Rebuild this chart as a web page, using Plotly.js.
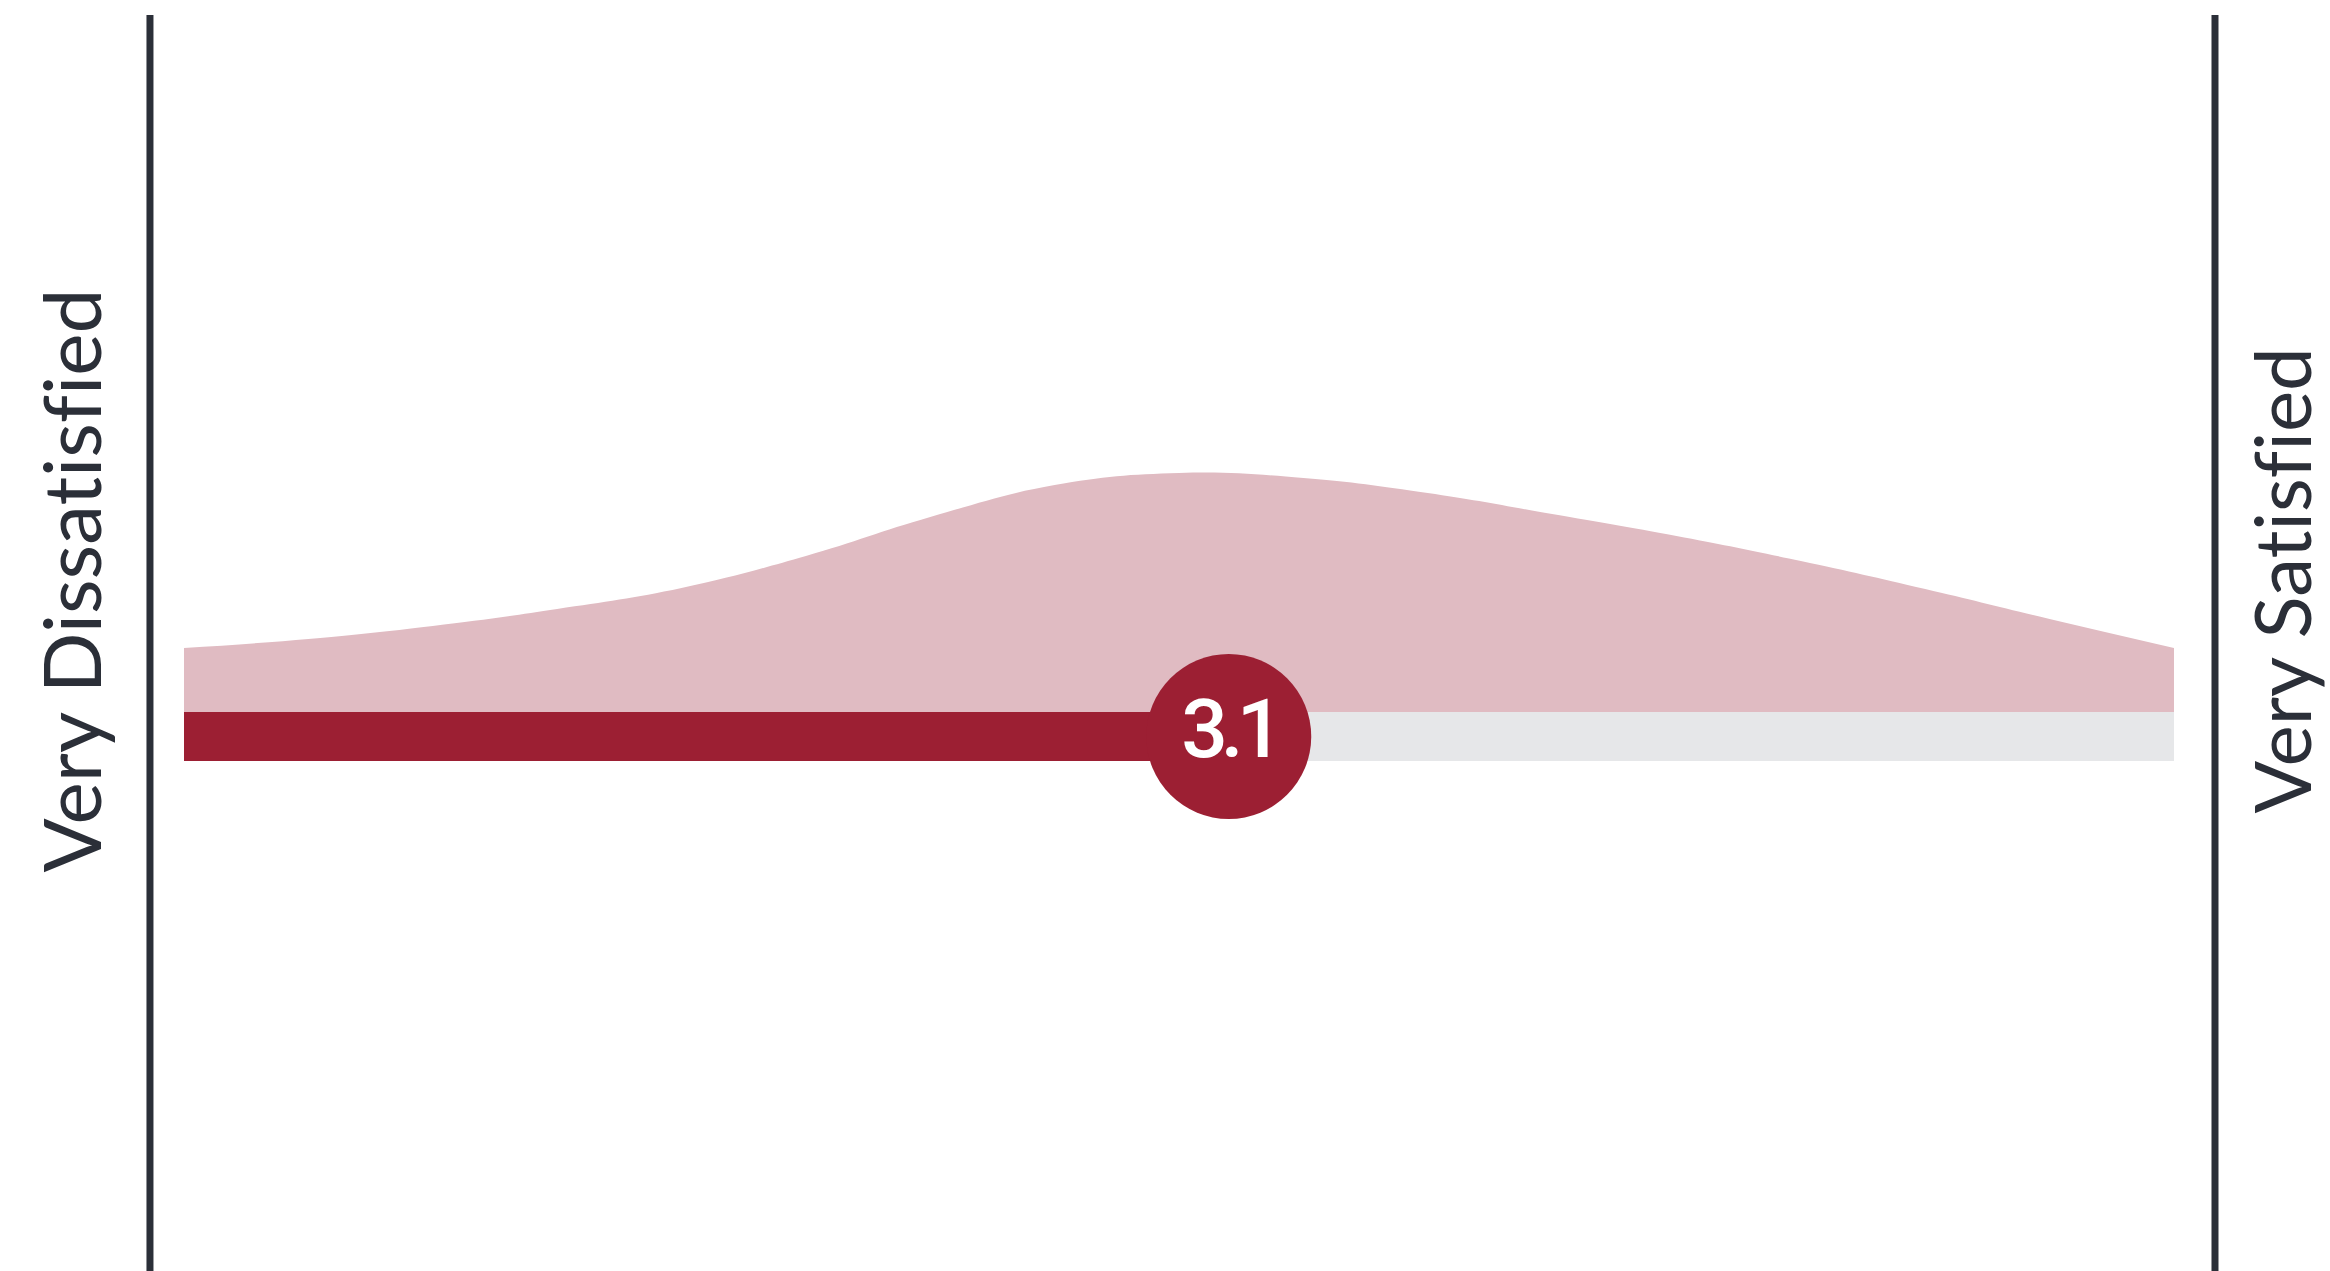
<!DOCTYPE html>
<html>
<head>
<meta charset="utf-8">
<script src="https://cdn.plot.ly/plotly-3.0.1.min.js"></script>
<style>
  html, body { margin: 0; padding: 0; background: #ffffff; }
  #chart { width: 2330px; height: 1271px; }
  text { font-variant-ligatures: none; font-feature-settings: "liga" 0; }
  .textpoint text { letter-spacing: -7px; }
</style>
</head>
<body>
<div id="chart"></div>
<script>
// ---- Data ----
const scaleLabels = ["Very Dissatisfied", "Very Satisfied"];
const scaleMin = 1;
const scaleMax = 5;
const meanScore = 3.1;
const scoreValues = [1.00, 1.25, 1.50, 1.75, 2.00, 2.25, 2.50, 2.75, 3.00, 3.25, 3.50, 3.75, 4.00, 4.25, 4.50, 4.75, 5.00];
const densityValues = [0.64, 0.73, 0.86, 1.03, 1.24, 1.56, 1.95, 2.27, 2.39, 2.34, 2.19, 1.98, 1.76, 1.51, 1.23, 0.93, 0.64];

// ---- Styles ----
const RED = "#9c1f33";
const PINK = "#e0bbc2";
const TRACK = "#e6e7e9";
const INK = "#2b2f38";
const barY = -0.245;
const barThickness = 0.49;

const traces = [
  {
    type: "scatter",
    x: scoreValues,
    y: densityValues,
    mode: "lines",
    fill: "tozeroy",
    fillcolor: PINK,
    line: { width: 0, shape: "spline", smoothing: 1.2, color: PINK },
    hoverinfo: "skip",
    showlegend: false
  },
  {
    type: "bar",
    orientation: "h",
    y: [barY],
    x: [scaleMax - scaleMin],
    base: [scaleMin],
    width: [barThickness],
    marker: { color: TRACK, line: { width: 0 } },
    hoverinfo: "skip",
    showlegend: false
  },
  {
    type: "bar",
    orientation: "h",
    y: [barY],
    x: [meanScore - scaleMin],
    base: [scaleMin],
    width: [barThickness],
    marker: { color: RED, line: { width: 0 } },
    hoverinfo: "skip",
    showlegend: false
  },
  {
    type: "scatter",
    x: [meanScore],
    y: [barY],
    mode: "markers+text",
    marker: { size: 165, color: RED, line: { width: 0 } },
    text: [meanScore.toFixed(1)],
    textposition: "middle center",
    textfont: { family: "Roboto, Liberation Sans, Arial, sans-serif", size: 82, weight: 500, color: "#ffffff" },
    hoverinfo: "skip",
    showlegend: false,
    cliponaxis: false
  }
];

const layout = {
  width: 2330,
  height: 1271,
  margin: { l: 184, r: 156, t: 0, b: 0, pad: 0 },
  paper_bgcolor: "#ffffff",
  plot_bgcolor: "#ffffff",
  barmode: "overlay",
  showlegend: false,
  xaxis: {
    range: [scaleMin, scaleMax],
    showgrid: false, zeroline: false, showticklabels: false, showline: false, ticks: "",
    fixedrange: true
  },
  yaxis: {
    range: [-5.59, 7.12],
    showgrid: false, zeroline: false, showticklabels: false, showline: false, ticks: "",
    fixedrange: true
  },
  shapes: [
    { type: "line", xref: "paper", yref: "paper", x0: -0.0171, x1: -0.0171, y0: 0, y1: 0.9882,
      line: { color: INK, width: 7 } },
    { type: "line", xref: "paper", yref: "paper", x0: 1.0206, x1: 1.0206, y0: 0, y1: 0.9882,
      line: { color: INK, width: 7 } }
  ],
  annotations: [
    { xref: "paper", yref: "paper", x: -0.0574, y: 0.543, text: scaleLabels[0],
      showarrow: false, textangle: -90, xanchor: "center", yanchor: "middle",
      font: { family: "Lato, Open Sans, sans-serif", size: 80, color: INK } },
    { xref: "paper", yref: "paper", x: 1.0535, y: 0.5437, text: scaleLabels[1],
      showarrow: false, textangle: -90, xanchor: "center", yanchor: "middle",
      font: { family: "Lato, Open Sans, sans-serif", size: 78, color: INK } }
  ]
};

Plotly.newPlot("chart", traces, layout, { displayModeBar: false, staticPlot: true });
</script>
</body>
</html>
